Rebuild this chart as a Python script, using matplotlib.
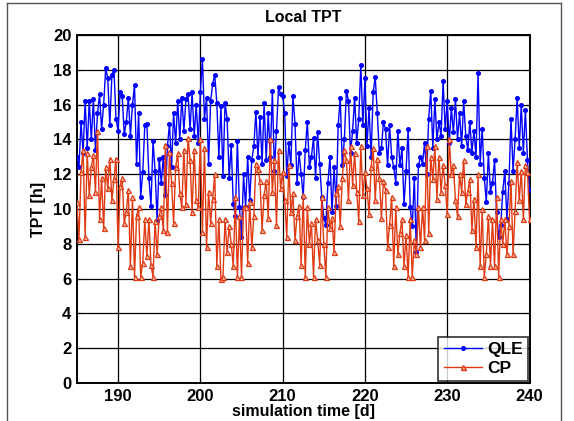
import numpy as np
import matplotlib
matplotlib.use("Agg")
import matplotlib.pyplot as plt
from matplotlib.lines import Line2D

plt.rcParams['font.family'] = ['Liberation Sans', 'DejaVu Sans']
plt.rcParams['font.weight'] = 'bold'

# ---- data ----
t_start = 185.0      # first sample [d]
t_step = 0.25        # sampling interval [d]

qle = [
    13.0, 12.4, 15.0, 13.2, 16.2, 13.5, 16.2, 14.0, 16.3, 13.4, 15.5, 16.6,
    14.6, 16.0, 18.1, 17.5, 14.8, 17.7, 18.0, 15.2, 14.5, 16.7, 16.5, 14.3,
    15.0, 16.4, 14.2, 16.0, 17.1, 12.6, 15.5, 10.7, 12.1, 14.8, 14.9, 11.8,
    10.2, 13.9, 12.2, 9.3, 12.9, 11.5, 13.0, 10.8, 13.6, 14.9, 12.4, 15.5,
    13.8, 16.2, 14.0, 16.4, 14.5, 16.3, 16.6, 14.6, 16.7, 14.2, 16.0, 13.8,
    16.7, 18.6, 15.2, 16.4, 12.6, 16.2, 17.2, 17.7, 16.1, 13.0, 15.9, 11.9,
    16.1, 15.2, 11.8, 13.7, 10.3, 9.6, 13.9, 10.1, 8.4, 12.0, 10.1, 13.0,
    10.5, 12.8, 13.6, 15.6, 13.0, 15.3, 12.6, 16.1, 12.8, 15.5, 13.0, 16.8,
    12.2, 14.5, 17.0, 16.6, 16.5, 15.5, 11.9, 13.8, 12.5, 16.5, 14.9, 11.5,
    13.2, 12.0, 10.7, 13.4, 15.0, 12.4, 13.0, 14.1, 11.8, 14.4, 12.6, 10.7,
    9.5, 9.1, 11.5, 13.0, 9.8, 12.4, 10.2, 14.8, 16.4, 12.5, 14.0, 16.8,
    16.2, 13.2, 14.5, 16.4, 13.8, 15.2, 18.3, 14.8, 17.5, 13.6, 15.8, 13.0,
    16.7, 17.6, 15.5, 13.2, 13.5, 15.0, 14.6, 12.5, 14.8, 13.0, 12.4, 11.5,
    14.5, 12.5, 13.5, 10.3, 12.2, 14.6, 10.1, 9.0, 11.8, 7.5, 12.5, 13.0,
    12.6, 13.8, 12.0, 15.2, 16.8, 13.5, 16.3, 14.0, 15.0, 14.2, 17.35, 14.6,
    16.2, 13.8, 15.8, 14.4, 16.3, 14.0, 15.5, 13.6, 16.2, 14.2, 13.4, 15.0,
    13.2, 14.5, 13.0, 17.8, 12.6, 14.6, 11.8, 10.4, 13.2, 11.0, 11.5, 12.8,
    9.8, 8.4, 9.1, 11.0, 12.2, 9.4, 11.5, 15.2, 12.2, 14.0, 16.4, 13.5,
    16.0, 13.2, 15.7, 12.8, 11.1,
]

cp = [
    10.4, 8.3, 12.1, 13.4, 8.4, 13.2, 10.8, 12.4, 13.1, 11.0, 14.5, 9.4,
    11.8, 8.9, 12.4, 11.2, 12.9, 10.5, 11.7, 12.9, 7.8, 11.3, 11.8, 9.2,
    9.8, 11.1, 6.7, 10.7, 6.1, 9.6, 10.1, 6.1, 6.9, 9.4, 7.3, 9.4,
    6.8, 6.1, 9.3, 7.4, 9.6, 10.1, 8.8, 13.7, 8.7, 13.3, 11.5, 9.2,
    12.4, 13.2, 10.9, 10.1, 13.4, 10.3, 14.1, 12.8, 9.8, 13.4, 10.5, 10.1,
    14.0, 8.7, 13.5, 7.8, 11.0, 9.2, 10.6, 12.0, 6.7, 9.4, 6.0, 6.1,
    9.4, 7.5, 9.0, 8.0, 6.7, 10.7, 6.1, 9.6, 6.1, 10.1, 10.1, 6.9,
    10.4, 7.8, 9.6, 12.6, 12.3, 11.6, 8.8, 10.8, 11.6, 9.5, 14.0, 11.0,
    12.8, 9.1, 13.4, 11.2, 12.1, 10.5, 8.4, 12.5, 9.8, 10.9, 8.2, 9.6,
    10.2, 6.8, 10.8, 6.1, 10.1, 8.0, 9.2, 6.1, 9.4, 8.2, 6.8, 10.7,
    8.0, 6.1, 10.1, 8.9, 9.5, 7.5, 10.9, 11.3, 9.0, 11.8, 13.4, 12.8,
    10.5, 13.6, 11.4, 13.2, 11.0, 9.3, 13.6, 10.8, 12.1, 11.2, 9.7, 12.4,
    13.5, 10.5, 12.9, 11.8, 9.5, 11.6, 11.1, 7.8, 9.1, 10.7, 6.7, 10.1,
    7.4, 8.6, 9.4, 6.7, 8.5, 6.1, 9.4, 6.1, 8.2, 7.4, 10.1, 7.8,
    10.1, 8.2, 13.6, 8.6, 13.0, 11.7, 13.6, 10.6, 13.0, 11.0, 12.5, 11.4,
    9.7, 14.0, 12.0, 12.5, 10.5, 9.6, 12.0, 11.0, 12.8, 10.3, 11.0, 11.7,
    8.8, 10.6, 7.8, 12.0, 6.7, 10.0, 6.1, 7.4, 9.6, 6.7, 9.4, 6.7,
    10.7, 6.1, 9.4, 8.0, 9.4, 7.4, 9.0, 11.6, 7.4, 9.9, 12.7, 10.5,
    12.2, 9.4, 12.5, 12.1, 9.4,
]

series_names = ['QLE', 'CP']
x_ticks = [190, 200, 210, 220, 230, 240]
y_ticks = [0, 2, 4, 6, 8, 10, 12, 14, 16, 18, 20]

t_qle = t_start + t_step * np.arange(len(qle))
t_cp = t_start + t_step * np.arange(len(cp))

# ---- figure ----
fig = plt.figure(figsize=(5.74, 4.21), dpi=100)
ax = fig.add_axes([0.134, 0.0903, 0.7885, 0.8266])

blue = '#0000ff'
red = '#e03a12'

ax.plot(t_qle, qle, color=blue, lw=1.0, marker='o', ms=2.6,
        mfc=blue, mec=blue, label=series_names[0], zorder=3)
ax.plot(t_cp, cp, color=red, lw=1.0, marker='^', ms=3.6,
        mfc='#f3b9a8', mec=red, mew=0.9, label=series_names[1], zorder=4)

ax.set_xlim(185, 240)
ax.set_ylim(0, 20)
ax.set_xticks(x_ticks)
ax.set_yticks(y_ticks)
ax.grid(True, color='black', lw=0.9, ls='-')
ax.set_axisbelow(True)
ax.tick_params(direction='in', length=3, width=0.8, top=True, right=True,
               labelsize=12, pad=4)
for lab in ax.get_xticklabels() + ax.get_yticklabels():
    lab.set_fontweight('bold')
for sp in ax.spines.values():
    sp.set_linewidth(1.4)
    sp.set_color('black')

ax.set_title('Local TPT', fontsize=11.5, fontweight='bold', pad=9)
ax.set_xlabel('simulation time [d]', fontsize=11.5, fontweight='bold', labelpad=0)
ax.set_ylabel('TPT [h]', fontsize=11.5, fontweight='bold', labelpad=5)

h1 = Line2D([], [], color=blue, lw=1.0, marker='o', ms=2.6, mfc=blue, mec=blue)
h2 = Line2D([], [], color=red, lw=1.0, marker='^', ms=3.6, mfc='#f3b9a8', mec=red)
leg = ax.legend([h1, h2], series_names, loc='lower right',
                prop={'weight': 'bold', 'size': 12.5},
                frameon=True, fancybox=False, edgecolor='black',
                borderaxespad=0.1, handlelength=2.2, handletextpad=0.3,
                borderpad=0.3, labelspacing=0.2)
leg.get_frame().set_linewidth(1.2)
leg.set_zorder(10)

# figure border frame
W, H = 574.0, 421.0
fig.add_artist(Line2D([7 / W, 7 / W], [0, 1 - 3 / H], transform=fig.transFigure,
                      color='#555555', lw=1.0))
fig.add_artist(Line2D([7 / W, 561 / W], [1 - 3 / H, 1 - 3 / H], transform=fig.transFigure,
                      color='#555555', lw=1.0))
fig.add_artist(Line2D([561 / W, 561 / W], [0, 1 - 3 / H], transform=fig.transFigure,
                      color='#555555', lw=1.0))

fig.savefig('out.png', dpi=100)
